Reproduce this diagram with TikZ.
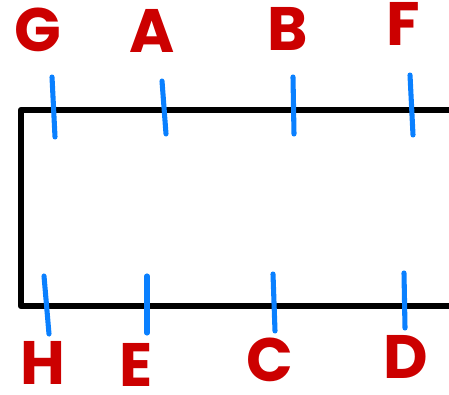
\documentclass[tikz,border=0pt]{standalone}
\usepackage{fontspec}
\setmainfont{Poppins}
\definecolor{lblred}{HTML}{CC0000}
\definecolor{tickblue}{HTML}{0A80FF}
\begin{document}
\begin{tikzpicture}[x=0.75pt,y=-0.75pt,
  lbl/.style={text=lblred,font=\fontsize{46}{46}\selectfont\bfseries,inner sep=0pt,anchor=base},
  tick/.style={draw=tickblue,line width=3.8pt,line cap=round},
  frame/.style={draw=black,line width=4.8pt,line join=round}]
\useasboundingbox (0,0) rectangle (449,395);
\draw[frame] (452,110) -- (21,110) -- (21,306) -- (452,306);
% top ticks
\coordinate (g1) at (52,77); \coordinate (g2) at (55,137);
\coordinate (a1) at (162,81); \coordinate (a2) at (166,134);
\coordinate (b1) at (293,77); \coordinate (b2) at (294,134);
\coordinate (f1) at (410,75); \coordinate (f2) at (413,135);
% bottom ticks
\coordinate (h1) at (44,276); \coordinate (h2) at (49,334);
\coordinate (e1) at (147,276); \coordinate (e2) at (147,333);
\coordinate (c1) at (273,274); \coordinate (c2) at (275,331);
\coordinate (d1) at (404,273); \coordinate (d2) at (405,328);
\foreach \t in {g,a,b,f,h,e,c,d} {\draw[tick] (\t1) -- (\t2);}
\node[lbl] (G) at (38,52) {G};
\node[lbl] (A) at (152,53) {A};
\node[lbl] (B) at (288,51) {B};
\node[lbl] (F) at (403,46) {F};
\node[lbl] (H) at (43,384) {H};
\node[lbl] (E) at (136,386) {E};
\node[lbl] (C) at (270,381) {C};
\node[lbl] (D) at (406,378) {D};
\end{tikzpicture}
\end{document}
